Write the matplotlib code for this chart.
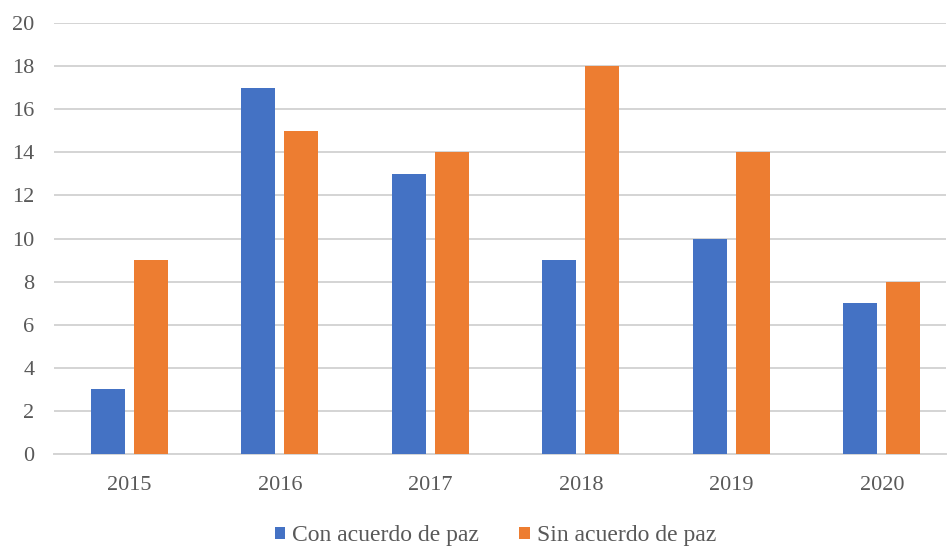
import matplotlib.pyplot as plt
import numpy as np

years = ['2015', '2016', '2017', '2018', '2019', '2020']
con_acuerdo = [3, 17, 13, 9, 10, 7]
sin_acuerdo = [9, 15, 14, 18, 14, 8]

plt.rcParams['font.family'] = ['Liberation Serif', 'DejaVu Serif']

fig = plt.figure(figsize=(9.47, 5.46), dpi=100)
ax = fig.add_axes([54 / 947, 92 / 546, 892 / 947, 431 / 546])

x = np.arange(len(years))
w = 0.226
ax.bar(x - 0.143, con_acuerdo, w, color='#4472C4', label='Con acuerdo de paz', zorder=3)
ax.bar(x + 0.143, sin_acuerdo, w, color='#ED7D31', label='Sin acuerdo de paz', zorder=3)

ax.set_xlim(-0.5, -0.5 + 892 / 150.5)
ax.set_ylim(0, 20)
ax.set_yticks(range(0, 21, 2))
ax.set_xticks(x)
ax.set_xticklabels(years)
ax.yaxis.grid(True, color='#D4D4D4', linewidth=1.4, zorder=0)
for s in ['top', 'right', 'left']:
    ax.spines[s].set_visible(False)
ax.spines['bottom'].set_color('#D4D4D4')
ax.spines['bottom'].set_linewidth(1.4)
ax.tick_params(axis='both', length=0, labelsize=16, colors='#595959')
ax.tick_params(axis='y', pad=14)
ax.tick_params(axis='x', pad=16)

ax.legend(loc='center', bbox_to_anchor=(0.495, -0.19), ncol=2, frameon=False,
          fontsize=17, labelcolor='#595959', handlelength=0.45, handleheight=0.45,
          handletextpad=0.3, columnspacing=1.7)

fig.savefig('out.png', dpi=100)
